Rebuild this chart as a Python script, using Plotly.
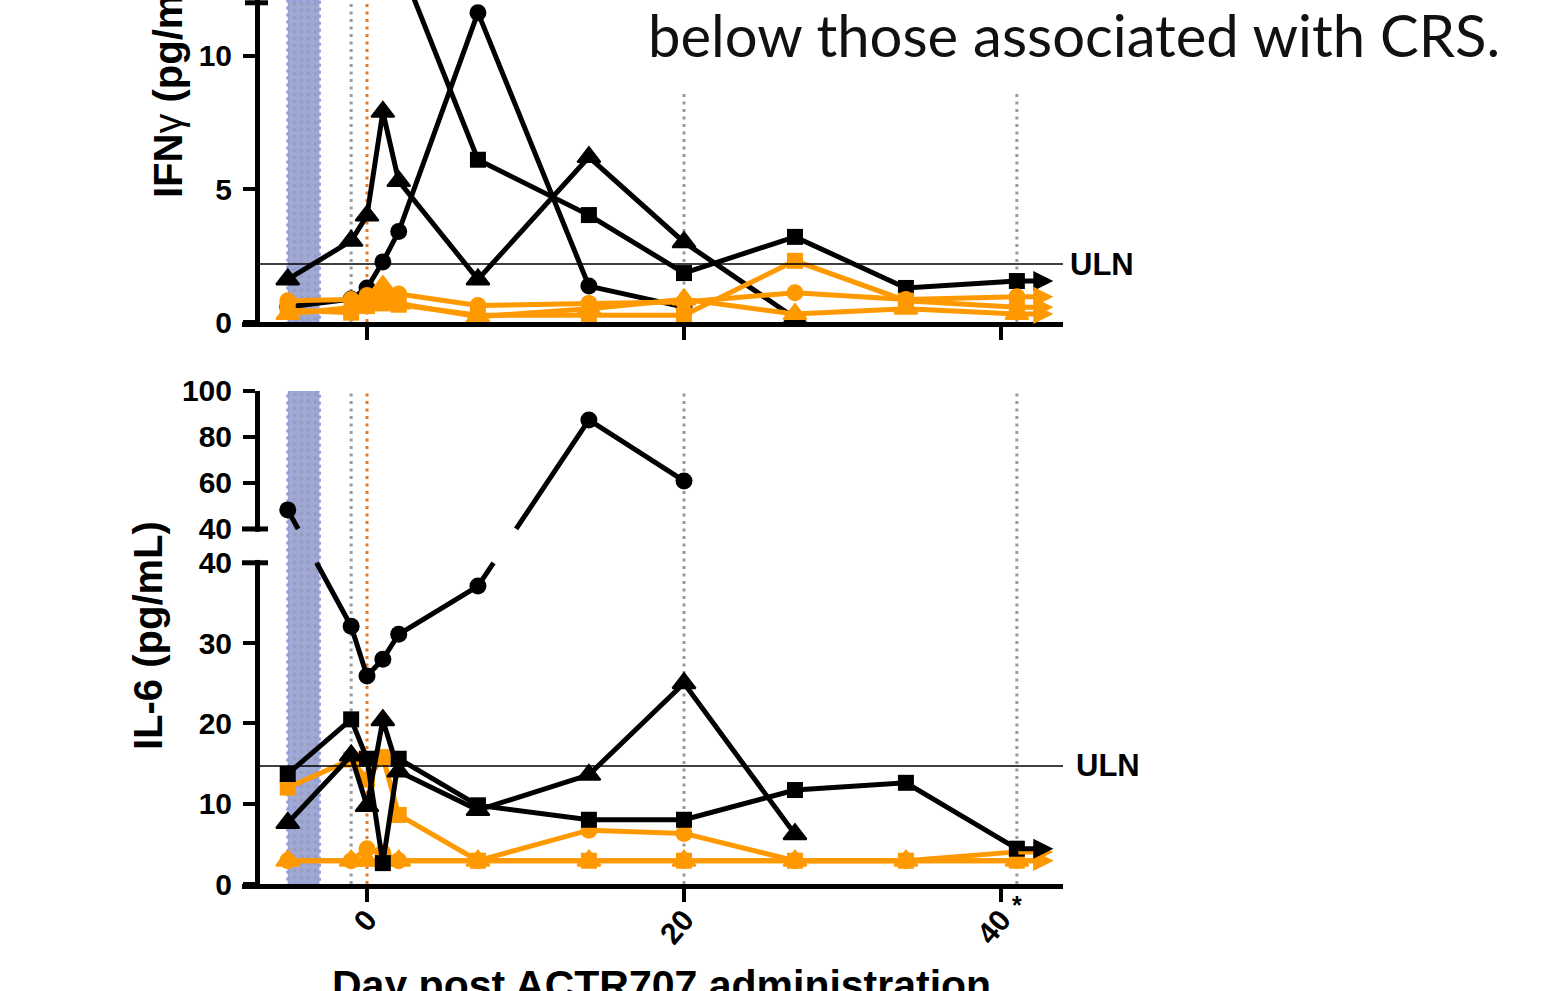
import plotly.graph_objects as go

# ---------------- data ----------------
days_all = [-5, -1, 0, 1, 2, 7, 14, 20, 27, 34, 41]

# IFN-gamma (pg/mL)
ifn_circle_black_days = [-5, -1, 0, 1, 2, 7, 14, 20]
ifn_circle_black = [0.56, 0.86, 1.28, 2.26, 3.4, 11.63, 1.35, 0.56]
ifn_triangle_black_days = [-5, -1, 0, 1, 2, 7, 14, 20, 27]
ifn_triangle_black = [1.6, 3.05, 4.0, 7.9, 5.3, 1.6, 6.2, 3.0, 0.15]
ifn_square_black_days = [2, 7, 14, 20, 27, 34, 41]
ifn_square_black = [13.6, 6.1, 4.02, 1.84, 3.2, 1.28, 1.54]
ifn_circle_orange = [0.8, 0.85, 1.0, 1.15, 1.05, 0.62, 0.7, 0.75, 1.1, 0.85, 0.95]
ifn_square_orange = [0.45, 0.35, 0.6, 0.7, 0.65, 0.25, 0.25, 0.25, 2.3, 0.8, 0.55]
ifn_triangle_orange = [0.3, 0.55, 0.8, 1.35, 0.7, 0.2, 0.5, 0.85, 0.3, 0.5, 0.3]
ifn_uln = 2.18

# IL-6 (pg/mL)
il6_circle_black_days = [-5, -1, 0, 1, 2, 7, 14, 20]
il6_circle_black = [48.3, 32.1, 25.9, 28.0, 31.1, 37.1, 87.4, 60.9]
il6_square_black = [13.7, 20.5, 15.6, 2.6, 15.6, 9.8, 8.0, 8.0, 11.7, 12.6, 4.4]
il6_triangle_black_days = [-5, -1, 0, 1, 2, 7, 14, 20, 27]
il6_triangle_black = [7.6, 16.0, 9.7, 20.4, 14.0, 9.2, 13.6, 25.0, 6.2]
il6_circle_orange = [2.9, 2.9, 4.4, 3.9, 2.9, 2.9, 6.7, 6.3, 2.9, 2.9, 4.0]
il6_square_orange = [12.0, 15.5, 13.0, 15.8, 8.6, 2.9, 2.9, 2.9, 2.9, 2.9, 2.9]
il6_triangle_orange = [2.9, 2.9, 2.9, 2.9, 2.9, 2.9, 2.9, 2.9, 2.9, 2.9, 2.9]
il6_uln = 14.7

ifn_ticks = [0, 5, 10]
il6_ticks_lower = [0, 10, 20, 30, 40]
il6_ticks_upper = [40, 60, 80, 100]
x_ticks = [0, 20, 40]
band_days = [-5, -3]
dotted_gray_days = [-1, 20, 41]
dotted_orange_day = 0
star_day = 41

# ---------------- geometry / style ----------------
FIG_W, FIG_H = 1557, 991
PL, PR, PT, PB = 242, 1063, 0, 884       # plot box in pixels


def px(xp):
    return (xp - PL) / (PR - PL)


def py(yp):
    return (PB - yp) / (PB - PT)


X_RANGE = [-7.886, 43.91]
IFN_RANGE = [0, 12.105]
BREAK_LO, BREAK_HI, UPPER_SCALE = 40.0, 44.21, 0.2864
IL6_RANGE = [0, 61.39]
YAX_POS = px(257)

BLACK = "#000000"
ORANGE = "#FF9900"
GRAY_DOT = "#9A9A9A"
ORANGE_DOT = "#E07A2A"
FONT = "Liberation Sans, Arial, sans-serif"
LW = 5
SZ_CIRCLE, SZ_SQUARE, SZ_TRI = 17, 16, 20


def il6_axis(v):
    return v if v <= BREAK_LO else BREAK_HI + (v - BREAK_LO) * UPPER_SCALE


def broken_line(xs, ys):
    ox, oy = [xs[0]], [ys[0]]
    for x0, y0, x1, y1 in zip(xs[:-1], ys[:-1], xs[1:], ys[1:]):
        up = y0 <= BREAK_LO and y1 >= BREAK_HI
        down = y0 >= BREAK_HI and y1 <= BREAK_LO
        if up or down:
            la, lb = (BREAK_LO, BREAK_HI) if up else (BREAK_HI, BREAK_LO)
            xa = x0 + (la - y0) / (y1 - y0) * (x1 - x0)
            xb = x0 + (lb - y0) / (y1 - y0) * (x1 - x0)
            ox += [xa, None, xb]
            oy += [la, None, lb]
        ox.append(x1)
        oy.append(y1)
    return ox, oy


fig = go.Figure()

# shaded band (lymphodepletion window) in both panels
for xa, ya, top in (("x", "y", IFN_RANGE[1]), ("x2", "y2", IL6_RANGE[1])):
    fig.add_trace(go.Scatter(
        x=[band_days[0], band_days[1], band_days[1], band_days[0], band_days[0]],
        y=[0, 0, top, top, 0], xaxis=xa, yaxis=ya, mode="lines",
        fill="toself", fillcolor="#A0A8D4",
        fillpattern=dict(shape=".", bgcolor="#A0A8D4", fgcolor="#8C93B5", size=7, solidity=0.25),
        line=dict(color="#8E9EDD", width=3, dash="3px,4px"),
        hoverinfo="skip", showlegend=False))

annotations = []


def add_series(xs, ys, color, symbol, msize, xa, ya, il6=False, arrow=False):
    yd = [il6_axis(v) for v in ys] if il6 else list(ys)
    lx, ly = broken_line(xs, yd) if il6 else (xs, yd)
    fig.add_trace(go.Scatter(x=lx, y=ly, xaxis=xa, yaxis=ya, mode="lines",
                             line=dict(color=color, width=LW), showlegend=False,
                             hoverinfo="skip"))
    mline = 2 if symbol.startswith("triangle") else 0
    fig.add_trace(go.Scatter(x=xs, y=yd, xaxis=xa, yaxis=ya, mode="markers",
                             marker=dict(symbol=symbol, size=msize, color=color,
                                         line=dict(width=mline, color=color)),
                             cliponaxis=False, showlegend=False))
    if arrow:
        annotations.append(dict(x=43.3, y=yd[-1], ax=xs[-1], ay=yd[-1], xref=xa, yref=ya,
                                axref=xa, ayref=ya, text="", showarrow=True,
                                arrowhead=2, arrowsize=0.8, arrowwidth=LW,
                                arrowcolor=color, standoff=0, startstandoff=0))


# IFN-gamma panel
add_series(ifn_circle_black_days, ifn_circle_black, BLACK, "circle", SZ_CIRCLE, "x", "y")
add_series(ifn_square_black_days, ifn_square_black, BLACK, "square", SZ_SQUARE, "x", "y", arrow=True)
add_series(ifn_triangle_black_days, ifn_triangle_black, BLACK, "triangle-up", SZ_TRI, "x", "y")
add_series(days_all, ifn_square_orange, ORANGE, "square", SZ_SQUARE, "x", "y", arrow=True)
add_series(days_all, ifn_circle_orange, ORANGE, "circle", SZ_CIRCLE, "x", "y", arrow=True)
add_series(days_all, ifn_triangle_orange, ORANGE, "triangle-up", SZ_TRI, "x", "y", arrow=True)

# IL-6 panel
add_series(days_all, il6_square_orange, ORANGE, "square", SZ_SQUARE, "x2", "y2", il6=True, arrow=True)
add_series(days_all, il6_circle_orange, ORANGE, "circle", SZ_CIRCLE, "x2", "y2", il6=True, arrow=True)
add_series(days_all, il6_triangle_orange, ORANGE, "triangle-up", SZ_TRI, "x2", "y2", il6=True, arrow=True)
add_series(il6_circle_black_days, il6_circle_black, BLACK, "circle", SZ_CIRCLE, "x2", "y2", il6=True)
add_series(il6_triangle_black_days, il6_triangle_black, BLACK, "triangle-up", SZ_TRI, "x2", "y2", il6=True)
add_series(days_all, il6_square_black, BLACK, "square", SZ_SQUARE, "x2", "y2", il6=True, arrow=True)

# ---------------- shapes ----------------
shapes = []
# dotted reference lines
for xa, ya, top, short_top in (("x", "y", IFN_RANGE[1], 8.65), ("x2", "y2", IL6_RANGE[1], IL6_RANGE[1])):
    for d in dotted_gray_days:
        y1 = top if d < 0 else short_top
        shapes.append(dict(type="line", xref=xa, yref=ya, x0=d, x1=d, y0=0, y1=y1, layer="below",
                           line=dict(color=GRAY_DOT, width=3, dash="3px,4.5px")))
    shapes.append(dict(type="line", xref=xa, yref=ya, x0=dotted_orange_day, x1=dotted_orange_day,
                       y0=0, y1=top, layer="below",
                       line=dict(color=ORANGE_DOT, width=3, dash="3px,4.5px")))
# ULN lines
shapes.append(dict(type="line", xref="paper", yref="y", x0=YAX_POS, x1=1, y0=ifn_uln, y1=ifn_uln,
                   line=dict(color=BLACK, width=1.5), layer="above"))
shapes.append(dict(type="line", xref="paper", yref="y2", x0=YAX_POS, x1=1, y0=il6_uln, y1=il6_uln,
                   line=dict(color=BLACK, width=1.5), layer="above"))
# axis break on the IL-6 axis
shapes.append(dict(type="rect", xref="paper", yref="y2", x0=px(246), x1=px(268),
                   y0=BREAK_LO + 0.35, y1=BREAK_HI - 0.35, fillcolor="white",
                   line=dict(width=0), layer="above"))
for yb in (BREAK_LO, BREAK_HI):
    shapes.append(dict(type="line", xref="paper", yref="y2", x0=px(242), x1=px(268), y0=yb, y1=yb,
                       line=dict(color=BLACK, width=5), layer="above"))
# cap at the top of the IFN axis segment
shapes.append(dict(type="line", xref="paper", yref="y", x0=px(245), x1=px(268), y0=12.0, y1=12.0,
                   line=dict(color=BLACK, width=5), layer="above"))

# ---------------- texts ----------------
bold = dict(family=FONT, color=BLACK, weight="bold")
annotations += [
    dict(text="ULN", xref="paper", yref="y", x=px(1068), y=ifn_uln, xanchor="left", yanchor="middle",
         showarrow=False, font=dict(size=31, **bold)),
    dict(text="ULN", xref="paper", yref="y2", x=px(1074), y=il6_uln, xanchor="left", yanchor="middle",
         showarrow=False, font=dict(size=31, **bold)),
    dict(text="IFN<span style='font-weight:normal'>γ</span> (pg/mL)", textangle=-90,
         xref="paper", yref="paper", x=px(168), y=py(77), xanchor="center", yanchor="middle",
         showarrow=False, font=dict(size=40, **bold)),
    dict(text="IL-6 (pg/mL)", textangle=-90, xref="paper", yref="paper", x=px(148), y=py(636),
         xanchor="center", yanchor="middle", showarrow=False, font=dict(size=40, **bold)),
    dict(text="Day post ACTR707 administration", xref="paper", yref="paper", x=px(661), y=py(960),
         xanchor="center", yanchor="top", showarrow=False, font=dict(size=41, **bold)),
    dict(text="*", xref="x2", yref="paper", x=star_day, y=py(905), xanchor="center", yanchor="middle",
         showarrow=False, font=dict(size=25, **bold)),
    dict(text="below those associated with CRS.", xref="paper", yref="paper", x=px(646), y=py(35),
         xanchor="left", yanchor="middle", showarrow=False,
         font=dict(family="Lato, Carlito, Calibri, sans-serif", size=58, color="#111111")),
]

tickfont = dict(size=30, **bold)
xcommon = dict(range=X_RANGE, showgrid=False, zeroline=False, showline=True, linecolor=BLACK,
               linewidth=5, ticks="outside", tickvals=x_ticks, ticklen=13, tickwidth=4,
               tickcolor=BLACK, domain=[0, 1], automargin=False)
ycommon = dict(showgrid=False, zeroline=False, showline=True, linecolor=BLACK, linewidth=5,
               ticks="outside", ticklen=12, tickwidth=4, tickcolor=BLACK, anchor="free",
               position=YAX_POS, tickfont=tickfont, automargin=False, ticklabelstandoff=5)

il6_tickvals = [il6_axis(v) for v in il6_ticks_lower] + \
    [BREAK_HI + (v - BREAK_LO) * UPPER_SCALE for v in il6_ticks_upper]
il6_ticktext = [str(v) for v in il6_ticks_lower] + [str(v) for v in il6_ticks_upper]

fig.update_layout(
    width=FIG_W, height=FIG_H,
    margin=dict(l=PL, r=FIG_W - PR, t=PT, b=FIG_H - PB, pad=0, autoexpand=False),
    paper_bgcolor="white", plot_bgcolor="white",
    showlegend=False,
    xaxis=dict(anchor="y", showticklabels=False, **xcommon),
    yaxis=dict(domain=[py(322), 1], range=IFN_RANGE, tickvals=ifn_ticks, **ycommon),
    xaxis2=dict(anchor="y2", showticklabels=True, tickangle=-50, tickfont=tickfont,
                ticklabelstandoff=-12, **xcommon),
    yaxis2=dict(domain=[0, py(391)], range=IL6_RANGE, tickvals=il6_tickvals,
                ticktext=il6_ticktext, **ycommon),
    shapes=shapes, annotations=annotations,
)

fig.write_html("out.html", config={"displayModeBar": False},
               post_script="document.body.style.margin='0px';document.body.style.overflow='hidden';")
